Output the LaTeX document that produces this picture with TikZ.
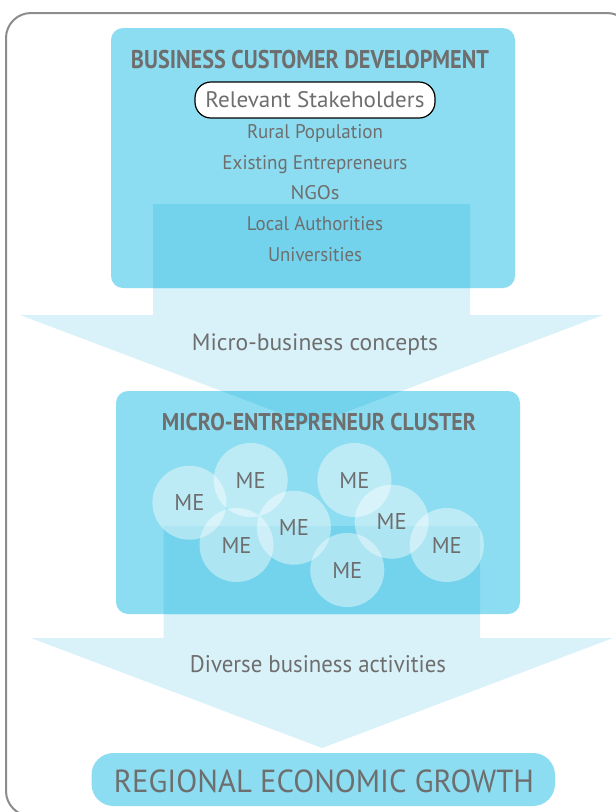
\documentclass[tikz,border=0pt]{standalone}
\usepackage{fontspec}
\setmainfont{PT Sans}
\usepackage{graphicx}
\definecolor{boxc}{HTML}{8CDDF1}
\definecolor{darkc}{HTML}{73D3EC}
\definecolor{arrc}{HTML}{D9F2F9}
\definecolor{txt}{HTML}{6E6E6E}
\definecolor{framec}{HTML}{8C8C8C}
\newcommand{\fw}[2]{\resizebox{#1}{!}{#2}}
\newcommand{\fwh}[3]{\resizebox{#1}{#2}{#3}}
\tikzset{
  lbl/.style={inner sep=0pt, text=txt, anchor=base},
  mecirc/.style={circle, minimum size=74pt, inner sep=0pt, fill=white, fill opacity=0.42, text opacity=1, text=txt},
  boxstyle/.style={fill=boxc, rounded corners=12pt}
}
\begin{document}
\begin{tikzpicture}[x=1pt,y=-1pt]
\useasboundingbox (0,0) rectangle (616,812);
\clip (0,0) rectangle (616,812);
\fill[white] (0,0) rectangle (616,812);
% outer frame
\draw[framec, line width=2pt, rounded corners=25pt] (6,13) rectangle (632,816);
\def\arrowA{(153,204) -- (470,204) -- (470,315) -- (603,315) -- (311.5,425) -- (20,315) -- (153,315) -- cycle}
\def\arrowB{(163.5,526) -- (480,526) -- (480,638) -- (613,638) -- (322,748) -- (31,638) -- (163.5,638) -- cycle}
% arrows (light)
\fill[arrc] \arrowA;
\fill[arrc] \arrowB;
% top box
\fill[boxstyle] (111,28) rectangle (515,288);
\begin{scope}
\clip[rounded corners=12pt] (111,28) rectangle (515,288);
\fill[darkc] \arrowA;
\end{scope}
% middle box
\fill[boxstyle] (116,391) rectangle (520,614);
\begin{scope}
\clip[rounded corners=12pt] (116,391) rectangle (520,614);
\fill[darkc] \arrowA;
\fill[darkc] \arrowB;
\end{scope}
% bottom box
\fill[boxc, rounded corners=22pt] (91.5,753) rectangle (555,806);
% texts top
\node[lbl] (t1) at (310,68.3) {\fwh{358pt}{18.3pt}{\bfseries BUSINESS CUSTOMER DEVELOPMENT}};
\node[draw=black, line width=1.2pt, fill=white, rounded corners=16pt, minimum width=240pt, minimum height=36pt, inner sep=0pt] (rs) at (315,100) {};
\node[lbl] (rst) at (315,107.3) {\fwh{219pt}{16pt}{Relevant Stakeholders}};
\node[lbl] (l1) at (315,138) {\fwh{136pt}{14pt}{Rural Population}};
\node[lbl] (l2) at (315,169) {\fwh{185pt}{14pt}{Existing Entrepreneurs}};
\node[lbl] (l3) at (315,199.5) {\fwh{49pt}{14pt}{NGOs}};
\node[lbl] (l4) at (315,230) {\fwh{136pt}{14pt}{Local Authorities}};
\node[lbl] (l5) at (315,261) {\fwh{94pt}{14pt}{Universities}};
\node[lbl] (mbc) at (315,350) {\fwh{246pt}{16.7pt}{Micro-business concepts}};
\node[lbl] (t2) at (319,430.7) {\fwh{314pt}{17.3pt}{\bfseries MICRO-ENTREPRENEUR CLUSTER}};
% ME circles
\node[mecirc] (me1) at (189.4,502.7) {\fwh{30pt}{16pt}{ME}};
\node[mecirc] (me2) at (250.7,480) {\fwh{30pt}{16pt}{ME}};
\node[mecirc] (me3) at (354.4,480) {\fwh{30pt}{16pt}{ME}};
\node[mecirc] (me4) at (293.9,527.7) {\fwh{30pt}{16pt}{ME}};
\node[mecirc] (me5) at (236.5,545) {\fwh{30pt}{16pt}{ME}};
\node[mecirc] (me6) at (391.7,521.7) {\fwh{30pt}{16pt}{ME}};
\node[mecirc] (me7) at (446.8,545) {\fwh{30pt}{16pt}{ME}};
\node[mecirc] (me8) at (347.3,570) {\fwh{30pt}{16pt}{ME}};
\node[lbl] (dba) at (318,672.7) {\fwh{256pt}{17pt}{Diverse business activities}};
\node[lbl] (t3) at (324,792.7) {\fwh{420pt}{22.7pt}{REGIONAL ECONOMIC GROWTH}};
\end{tikzpicture}
\end{document}
